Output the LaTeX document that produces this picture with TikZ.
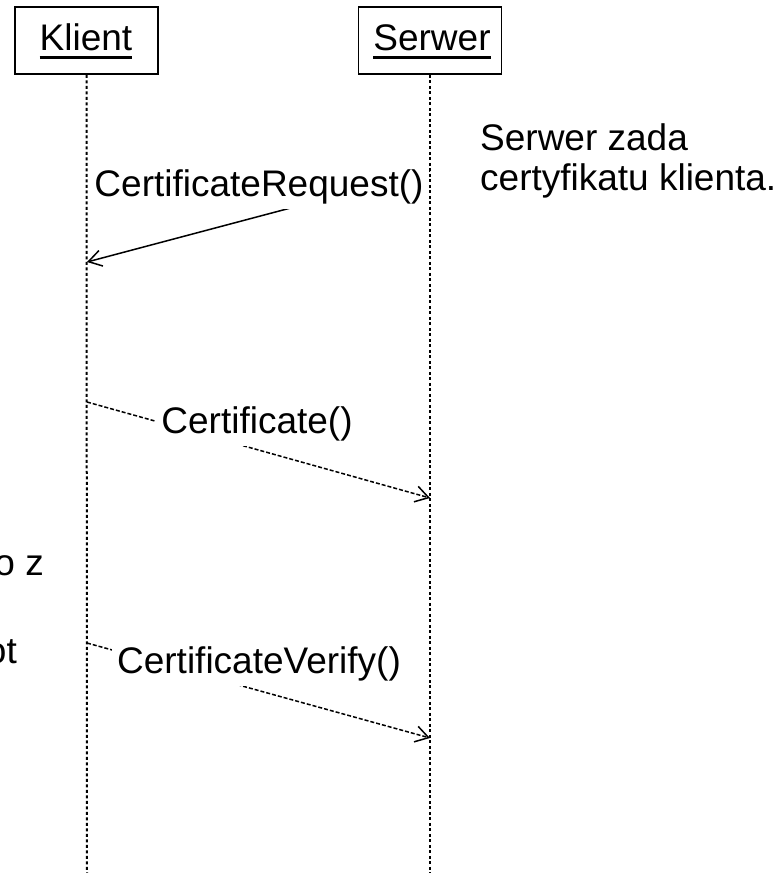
\documentclass[tikz,border=0pt]{standalone}
\usepackage{fontspec}
\setmainfont{Liberation Sans}
\usetikzlibrary{arrows.meta}
\begin{document}
\begin{tikzpicture}[x=1pt,y=-1pt,
  every node/.style={font=\fontsize{37}{40}\selectfont, inner sep=0pt},
  objbox/.style={draw, line width=1.8pt, minimum width=143pt, minimum height=67pt},
  lifeline/.style={line width=2pt, dash pattern=on 3pt off 2.5pt},
  msgsync/.style={line width=1.5pt, -{Straight Barb[length=13pt,width=16pt]}},
  msgret/.style={msgsync, dash pattern=on 4pt off 2pt},
  msglabel/.style={fill=white, inner xsep=5pt, inner ysep=5pt, anchor=base},
  ulbar/.style={line width=3pt}
]
\useasboundingbox (0,0) rectangle (776,873);
\clip (0,0) rectangle (776,873);

% objects
\node[objbox] (kbox) at (86.5,40.5) {};
\node[objbox] (sbox) at (430,40.5) {};
\node[anchor=base] (ktxt) at (86,50) {Klient};
\node[anchor=base] (stxt) at (432,50) {Serwer};
\draw[ulbar] ([yshift=-7pt]ktxt.base west) -- ([yshift=-7pt]ktxt.base east);
\draw[ulbar] ([yshift=-7pt]stxt.base west) -- ([yshift=-7pt]stxt.base east);

% lifeline ends
\coordinate (kend) at (87,873);
\coordinate (send) at (430,873);

% message points
\coordinate (m1s) at (430,171);
\coordinate (m1e) at (87,262);
\coordinate (m2s) at (87,402);
\coordinate (m2e) at (430,498);
\coordinate (m3s) at (87,643);
\coordinate (m3e) at (430,738);

\draw[msgsync] (m1s) -- (m1e);
\draw[msgret] (m2s) -- (m2e);
\draw[msgret] (m3s) -- (m3e);

\node[msglabel] (l1) at (259,196) {CertificateRequest()};
\node[msglabel] (l2) at (257,433) {Certificate()};
\node[msglabel] (l3) at (259,673) {CertificateVerify()};

% lifelines
\draw[lifeline] (kbox.south) -- (kend);
\draw[lifeline] (sbox.south) -- (send);

% note
\node[anchor=base west] (n1) at (480,150) {Serwer zada};
\node[anchor=base west] (n2) at (480,190) {certyfikatu klienta.};

% cut-off note on the left (cut by the picture's edge, as in the reference)
\node[anchor=base east] (c1) at (44,575) {o z};
\node[anchor=base east] (c2) at (17,663) {ot};
\end{tikzpicture}
\end{document}
